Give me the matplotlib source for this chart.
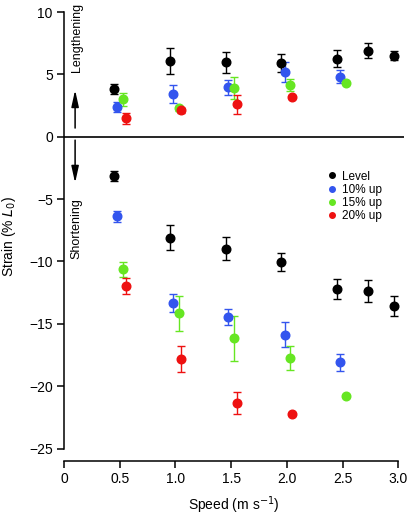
import numpy as np
import matplotlib
matplotlib.use('Agg')
import matplotlib.pyplot as plt

plt.rcParams['font.family'] = ['Liberation Sans', 'DejaVu Sans']

######## data (speed m/s, strain % L0, sem) ########
# Level
lev_x = [0.45, 0.95, 1.455, 1.95, 2.45, 2.73, 2.96]
lev_up = [3.8, 6.1, 5.97, 5.9, 6.27, 6.88, 6.5]
lev_up_err = [0.4, 1.05, 0.85, 0.7, 0.65, 0.6, 0.35]
lev_dn = [-3.13, -8.1, -8.96, -10.04, -12.23, -12.37, -13.6]
lev_dn_err = [0.4, 1.0, 0.9, 0.75, 0.8, 0.9, 0.8]

# 10% up
b10_x = [0.475, 0.975, 1.475, 1.98, 2.48]
b10_up = [2.41, 3.43, 3.97, 5.22, 4.82]
b10_up_err = [0.4, 0.7, 0.6, 0.8, 0.5]
b10_dn = [-6.37, -13.33, -14.46, -15.87, -18.1]
b10_dn_err = [0.45, 0.7, 0.65, 1.0, 0.67]

# 15% up
g15_x = [0.53, 1.03, 1.53, 2.03, 2.53]
g15_up = [3.0, 2.28, 3.89, 4.15, 4.29]
g15_up_err = [0.5, 0.2, 0.9, 0.45, 0.0]
g15_dn = [-10.63, -14.14, -16.15, -17.75, -20.77]
g15_dn_err = [0.6, 1.4, 1.8, 0.95, 0.0]

# 20% up
r20_x = [0.554, 1.05, 1.55, 2.05]
r20_up = [1.48, 2.14, 2.6, 3.19]
r20_up_err = [0.45, 0.2, 0.78, 0.0]
r20_dn = [-11.94, -17.8, -21.34, -22.2]
r20_dn_err = [0.65, 1.05, 0.9, 0.0]

series = [
    ('Level', 'black', lev_x, lev_up, lev_up_err, lev_dn, lev_dn_err),
    ('10% up', '#3355ee', b10_x, b10_up, b10_up_err, b10_dn, b10_dn_err),
    ('15% up', '#66e622', g15_x, g15_up, g15_up_err, g15_dn, g15_dn_err),
    ('20% up', '#ee1111', r20_x, r20_up, r20_up_err, r20_dn, r20_dn_err),
]

fig = plt.figure(figsize=(4.10, 5.16), dpi=100)
ax = fig.add_axes([0.156, 0.1066, 0.829, 0.870])

ax.axhline(0, color='black', linewidth=1.2, zorder=1)

for name, col, x, up, upe, dn, dne in series:
    ax.errorbar(x, up, yerr=upe, fmt='o', color=col, ecolor=col, markersize=6.2,
                capsize=3, elinewidth=1, capthick=1, zorder=3)
    ax.errorbar(x, dn, yerr=dne, fmt='o', color=col, ecolor=col, markersize=6.2,
                capsize=3, elinewidth=1, capthick=1, zorder=3)
    ax.plot([], [], 'o', color=col, markersize=4, label=name)

ax.set_xlim(0, 3.05)
ax.set_ylim(-26, 10)
ax.spines['top'].set_visible(False)
ax.spines['right'].set_visible(False)
ax.spines['left'].set_bounds(-25, 10)
ax.spines['bottom'].set_bounds(0, 3.0)
for s in ['left', 'bottom']:
    ax.spines[s].set_linewidth(1.1)
ax.set_xticks([0, 0.5, 1.0, 1.5, 2.0, 2.5, 3.0])
ax.set_xticklabels(['0', '0.5', '1.0', '1.5', '2.0', '2.5', '3.0'])
ax.set_yticks([10, 5, 0, -5, -10, -15, -20, -25])
ax.set_yticklabels(['10', '5', '0', '\u22125', '\u221210', '\u221215', '\u221220', '\u221225'])
ax.tick_params(direction='out', length=5, width=1.1, labelsize=10, pad=3)

ax.set_xlabel('Speed (m s$^{-1}$)', fontsize=10, labelpad=6)
ax.set_ylabel('Strain (% $L_0$)', fontsize=10, labelpad=8)

# direction arrows and labels
arr = dict(arrowstyle='-|>,head_length=1.0,head_width=0.22', color='black',
           lw=1.1, mutation_scale=10, shrinkA=0, shrinkB=0)
ax.annotate('', xy=(0.1, 3.75), xytext=(0.1, 0.7), arrowprops=arr)
ax.annotate('', xy=(0.1, -3.7), xytext=(0.1, -0.27), arrowprops=arr)
ax.text(0.115, 8.0, 'Lengthening', rotation=90, ha='center', va='center', fontsize=9)
ax.text(0.115, -7.4, 'Shortening', rotation=90, ha='center', va='center', fontsize=9)

ax.legend(loc='upper left', bbox_to_anchor=(0.76, 0.66), frameon=False, fontsize=8.5,
          handlelength=0.6, handletextpad=0.6, labelspacing=0.1, borderpad=0)

fig.savefig('out.png', dpi=100)
